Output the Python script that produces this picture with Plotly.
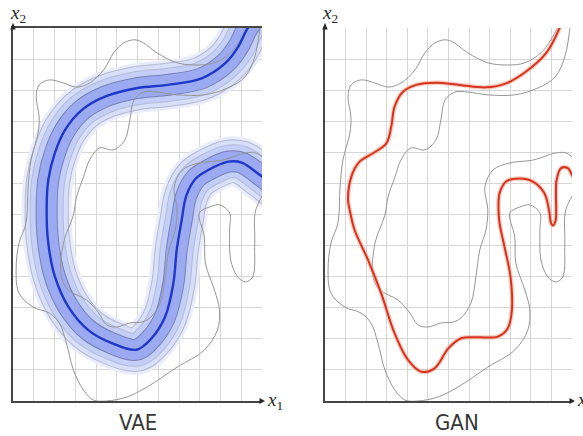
import plotly.graph_objects as go

# ---- data (grid units, 12 x 12 grid per panel) ----
# VAE mean curve
vae_u = [12.2, 11.26, 10.86, 10.22, 9.09, 7.47, 6.0, 4.43, 3.31, 2.51, 2.02, 1.70, 1.62, 1.70, 2.02,
         2.67, 3.63, 4.76, 5.95, 6.68, 7.33, 7.73, 7.89, 8.13, 8.35, 8.8, 9.41, 10.38, 11.02, 11.90, 12.8]
vae_v = [12.9, 11.94, 11.40, 10.86, 10.38, 10.17, 10.07, 9.79, 9.36, 8.72, 7.98, 7.11, 6.1, 5.08, 4.0,
         3.03, 2.28, 1.86, 1.65, 2.02, 2.71, 3.79, 4.86, 5.82, 6.6, 7.15, 7.43, 7.70, 7.67, 7.27, 6.8]

# GAN generated curve
gan_u = [11.7, 11.39, 10.74, 9.77, 8.80, 7.83, 6.54, 5.40, 4.43, 3.79, 3.38, 3.22, 2.98, 2.33, 1.68,
         1.28, 1.12, 1.20, 1.44, 2.09, 2.73, 3.38, 4.03, 4.68, 5.32, 6.0, 6.62, 7.43, 8.40, 8.88,
         9.08, 9.01, 8.72, 8.48, 8.43, 8.48, 8.80, 9.45, 10.10, 10.66, 10.91, 10.97, 11.08, 11.2,
         11.23, 11.22, 11.25, 11.47, 11.80, 12.0, 12.4]
gan_v = [12.6, 11.99, 11.19, 10.60, 10.22, 10.09, 10.17, 10.24, 10.17, 9.95, 9.47, 8.83, 8.29, 7.97, 7.70,
         7.22, 6.47, 6.15, 5.50, 4.54, 3.46, 2.18, 1.32, 0.94, 1.05, 1.7, 2.02, 2.05, 2.07, 2.34,
         2.93, 4.00, 4.96, 5.72, 6.15, 6.68, 7.06, 7.16, 7.06, 6.68, 6.04, 5.75, 5.65, 5.8,
         6.2, 6.6, 7.1, 7.49, 7.49, 7.27, 6.8]

# true data density contours (shared by both panels)
outer_u = [12.3, 11.70, 11.65, 11.55, 11.21, 10.83, 10.49, 10.44, 10.44, 9.95, 9.47, 8.98, 9.22, 9.27,
           9.71, 9.95, 9.85, 9.22, 7.91, 6.46, 5.49, 4.51, 3.88, 3.40, 2.91, 2.57, 2.23, 1.75, 0.97,
           0.29, 0.15, 0.29, 0.63, 0.73, 0.87, 1.21, 1.26, 1.12, 1.26, 1.75, 2.43, 3.06, 3.69, 4.37,
           4.85, 5.34, 5.83, 6.21, 6.94, 7.91, 8.88, 9.71, 10.49, 10.97, 11.31, 11.5]
outer_v = [6.9, 6.15, 5.08, 3.99, 3.83, 3.99, 4.54, 5.50, 6.05, 6.31, 6.24, 6.05, 5.28, 4.44,
           3.57, 2.93, 2.28, 1.64, 1.09, 0.45, 0.13, 0.0, 0.03, 0.35, 1.00, 1.87, 2.51, 2.83, 3.02,
           3.47, 4.21, 5.08, 5.73, 6.89, 7.75, 8.62, 9.14, 9.78, 10.17, 10.33, 10.23, 10.10, 10.23, 10.65,
           11.20, 11.52, 11.62, 11.55, 11.20, 10.88, 10.81, 10.88, 11.20, 11.62, 12.03, 12.4]

inner_u = [11.95, 11.65, 11.17, 10.34, 9.22, 7.91, 6.94, 6.31, 5.83, 5.63, 5.39, 4.85, 4.17, 3.69,
           3.40, 3.06, 2.91, 2.43, 2.33, 2.67, 3.54, 4.13, 4.51, 5.0, 5.63, 6.21, 6.60, 7.09, 7.33,
           7.52, 7.82, 7.91, 7.77, 8.16, 8.98, 10.10, 11.21, 11.70, 12.3]
inner_v = [12.3, 11.07, 10.42, 10.07, 9.85, 9.85, 9.94, 9.94, 9.68, 9.04, 8.40, 8.08, 8.14, 7.75,
           7.21, 6.56, 5.98, 5.08, 3.99, 3.57, 3.25, 2.83, 2.45, 2.38, 2.51, 2.54, 2.67, 3.15, 3.99,
           4.86, 5.50, 6.15, 6.89, 7.43, 7.66, 7.75, 7.98, 7.98, 7.7]

panel_titles = ["VAE", "GAN"]

# ---- figure ----
W, H = 583, 436
fig = go.Figure()

GRAY = "rgb(150,150,150)"

def add_contours(xa, ya):
    for cu, cv in ((outer_u, outer_v), (inner_u, inner_v)):
        fig.add_trace(go.Scatter(x=cu, y=cv, mode="lines", xaxis=xa, yaxis=ya,
                                 line=dict(color=GRAY, width=1, shape="spline", smoothing=1.0),
                                 hoverinfo="skip", showlegend=False))

# VAE bands (nested stroke layers)
band_layers = [
    (50, "rgb(232,236,252)"),
    (44, "rgb(180,184,204)"),
    (42, "rgb(216,223,251)"),
    (34, "rgb(180,186,214)"),
    (32, "rgb(196,207,248)"),
    (22, "rgb(120,128,180)"),
    (20, "rgb(155,170,241)"),
]
for w, c in band_layers:
    fig.add_trace(go.Scatter(x=vae_u, y=vae_v, mode="lines", xaxis="x", yaxis="y",
                             line=dict(color=c, width=w, shape="spline", smoothing=1.0),
                             hoverinfo="skip", showlegend=False))
add_contours("x", "y")
fig.add_trace(go.Scatter(x=vae_u, y=vae_v, mode="lines", xaxis="x", yaxis="y",
                         line=dict(color="rgb(30,56,200)", width=2.4, shape="spline", smoothing=1.0),
                         hoverinfo="skip", showlegend=False))

# GAN panel
add_contours("x2", "y2")
fig.add_trace(go.Scatter(x=gan_u, y=gan_v, mode="lines", xaxis="x2", yaxis="y2",
                         line=dict(color="rgba(245,170,150,0.6)", width=4.5, shape="spline", smoothing=1.0),
                         hoverinfo="skip", showlegend=False))
fig.add_trace(go.Scatter(x=gan_u, y=gan_v, mode="lines", xaxis="x2", yaxis="y2",
                         line=dict(color="rgb(214,52,30)", width=2.0, shape="spline", smoothing=1.0),
                         hoverinfo="skip", showlegend=False))

ydom = [1 - 401 / H, 1 - 28 / H]
common = dict(range=[0, 12], dtick=1, showgrid=True, gridcolor="rgb(214,214,214)", gridwidth=1.3,
              zeroline=False, showticklabels=False, ticks="", fixedrange=True)
fig.update_layout(
    width=W, height=H, margin=dict(l=0, r=0, t=0, b=0),
    paper_bgcolor="white", plot_bgcolor="white", showlegend=False,
    xaxis=dict(domain=[13 / W, 262 / W], showline=True, linecolor="rgb(70,70,70)", linewidth=1.5,
               mirror=True, anchor="y", **common),
    yaxis=dict(domain=ydom, showline=True, linecolor="rgb(70,70,70)", linewidth=1.5, anchor="x", **common),
    xaxis2=dict(domain=[325 / W, 572 / W], showline=True, linecolor="rgb(70,70,70)", linewidth=1.5,
                anchor="y2", **common),
    yaxis2=dict(domain=ydom, showline=True, linecolor="rgb(70,70,70)", linewidth=1.5, anchor="x2", **common),
)

refs = (("x domain", "y domain", 0.5), ("x2 domain", "y2 domain", 0.535))
ann = []
shapes = []
for xr, yr, tcx in refs:
    # axis labels
    ann.append(dict(xref=xr, yref=yr, x=-0.02, y=1.037, xanchor="left", yanchor="middle",
                    text="<i>x</i><sub>2</sub>", showarrow=False,
                    font=dict(family="Liberation Serif, serif", size=19, color="rgb(40,40,40)")))
    ann.append(dict(xref=xr, yref=yr, x=1.012, y=0.0, xanchor="left", yanchor="middle",
                    text="<i>x</i><sub>1</sub>", showarrow=False,
                    font=dict(family="Liberation Serif, serif", size=19, color="rgb(40,40,40)")))
    # small arrow heads at the axis ends
    shapes.append(dict(type="path", xref=xr, yref=yr, line=dict(width=0), fillcolor="rgb(40,40,40)",
                       path="M -0.011 0.996 L 0 1.014 L 0.011 0.996 Z"))
    shapes.append(dict(type="path", xref=xr, yref=yr, line=dict(width=0), fillcolor="rgb(40,40,40)",
                       path="M 0.99 -0.008 L 1.012 0 L 0.99 0.008 Z"))
for (xr, yr, tcx), t in zip(refs, panel_titles):
    ann.append(dict(xref=xr, yref=yr, x=tcx, y=-0.057, text=t, showarrow=False, yanchor="middle",
                    font=dict(family="Liberation Sans Narrow, DejaVu Sans Condensed, Arial", size=22,
                              color="rgb(55,55,55)")))
fig.update_layout(annotations=ann, shapes=shapes)

fig.write_html("out.html", config={"displayModeBar": False},
               post_script="document.body.style.margin='0px';")
